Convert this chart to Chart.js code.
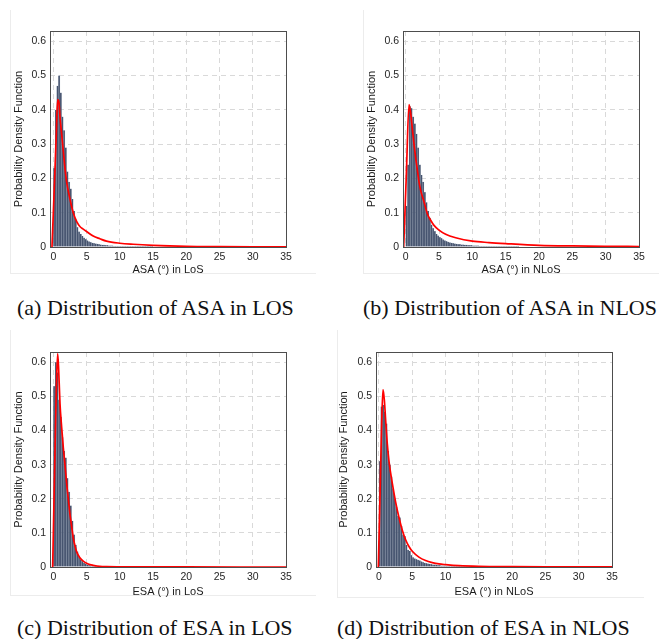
<!DOCTYPE html>
<html>
<head>
<meta charset="utf-8">
<script src="https://cdn.jsdelivr.net/npm/chart.js@4.4.1/dist/chart.umd.min.js"></script>
<style>
  html, body { margin: 0; padding: 0; background: #fff; }
  body { width: 659px; height: 639px; position: relative; overflow: hidden; }
  canvas { position: absolute; }
  .cap { position: absolute; font-family: "Liberation Serif", "Times New Roman", serif; font-size: 22px; line-height: 22px; color: #111; white-space: nowrap; }
  .edge { position: absolute; border-left: 1px solid #ececec; border-bottom: 1px solid #ececec; }
</style>
</head>
<body>
<div class="edge" style="left:10px;top:10px;width:305px;height:263px"></div>
<div class="edge" style="left:363px;top:10px;width:296px;height:263px"></div>
<div class="edge" style="left:10px;top:330px;width:305px;height:265px"></div>
<div class="edge" style="left:337px;top:330px;width:306px;height:267px"></div>

<div class="cap" style="left:17px;top:297px">(a) Distribution of ASA in LOS</div>
<div class="cap" style="left:363px;top:297px">(b) Distribution of ASA in NLOS</div>
<div class="cap" style="left:17px;top:617px">(c) Distribution of ESA in LOS</div>
<div class="cap" style="left:337px;top:617px">(d) Distribution of ESA in NLOS</div>

<script>
// axes
const xTicks = [0, 5, 10, 15, 20, 25, 30, 35];
const yTicks = [0, 0.1, 0.2, 0.3, 0.4, 0.5, 0.6];
const binWidth = 0.25;

// (a) ASA in LoS
const asaLosHist = [0.23, 0.40, 0.47, 0.50, 0.45, 0.38, 0.34, 0.29, 0.22, 0.19, 0.17, 0.14, 0.105, 0.08, 0.058, 0.045,
  0.038, 0.032, 0.027, 0.023, 0.019, 0.016, 0.014, 0.012, 0.011, 0.010, 0.009, 0.008, 0.007, 0.006, 0.006, 0.005,
  0.005, 0.004, 0.004, 0.004, 0.003, 0.003, 0.003, 0.003, 0.002, 0.002, 0.002, 0.002, 0.002, 0.002, 0.002, 0.002,
  0.001, 0.001, 0.001, 0.001, 0.001, 0.001, 0.001, 0.001, 0.001, 0.001, 0.001, 0.001];
const asaLosFitX = [-0.2, 0.2, 0.45, 0.65, 0.85, 1.0, 1.25, 1.5, 1.75, 2.0, 2.5, 3.0, 3.5, 4.0, 4.5, 5.0, 6.0, 7.0, 8.0, 10, 12, 15, 20, 25, 30, 35];
const asaLosFitY = [0, 0.2, 0.33, 0.43, 0.42, 0.38, 0.33, 0.28, 0.23, 0.19, 0.14, 0.10, 0.075, 0.06, 0.052, 0.045, 0.032, 0.024, 0.017, 0.011, 0.008, 0.005, 0.002, 0.001, 0.0005, 0.0003];

// (b) ASA in NLoS
const asaNlosHist = [0.12, 0.24, 0.41, 0.405, 0.38, 0.36, 0.33, 0.29, 0.24, 0.21, 0.19, 0.16, 0.13, 0.105, 0.085, 0.065,
  0.055, 0.046, 0.038, 0.033, 0.029, 0.026, 0.022, 0.019, 0.017, 0.015, 0.013, 0.012, 0.011, 0.010, 0.009, 0.008,
  0.008, 0.007, 0.007, 0.006, 0.006, 0.005, 0.005, 0.005, 0.004, 0.004, 0.004, 0.004, 0.003, 0.003, 0.003, 0.003,
  0.002, 0.002, 0.002, 0.002, 0.002, 0.002, 0.002, 0.002, 0.001, 0.001, 0.001, 0.001, 0.001, 0.001, 0.001, 0.001,
  0.001, 0.001, 0.001, 0.001];
const asaNlosFitX = [-0.3, 0.1, 0.5, 0.75, 1.0, 1.25, 1.5, 1.75, 2.0, 2.25, 2.75, 3.25, 3.75, 4.25, 5.0, 6.0, 7.5, 10, 12.5, 15, 20, 25, 30, 35];
const asaNlosFitY = [0, 0.21, 0.415, 0.39, 0.345, 0.30, 0.26, 0.225, 0.19, 0.165, 0.132, 0.097, 0.078, 0.063, 0.049, 0.037, 0.027, 0.017, 0.013, 0.01, 0.005, 0.003, 0.002, 0.0015];

// (c) ESA in LoS
const esaLosHist = [0.53, 0.60, 0.57, 0.49, 0.44, 0.38, 0.34, 0.32, 0.26, 0.22, 0.18, 0.135, 0.095, 0.065, 0.045, 0.03,
  0.022, 0.017, 0.012, 0.009, 0.007, 0.005, 0.004, 0.003, 0.003, 0.002, 0.002, 0.002, 0.001, 0.001, 0.001, 0.001];
const esaLosFitX = [-0.1, 0.2, 0.45, 0.65, 0.8, 1.0, 1.25, 1.5, 1.75, 2.0, 2.25, 2.5, 2.75, 3.0, 3.25, 3.5, 4.0, 4.5, 5.0, 5.5, 6.0, 7.0, 8.0, 10, 15, 20, 35];
const esaLosFitY = [0, 0.29, 0.52, 0.625, 0.58, 0.48, 0.41, 0.35, 0.30, 0.245, 0.20, 0.155, 0.12, 0.085, 0.063, 0.045, 0.027, 0.017, 0.011, 0.007, 0.005, 0.002, 0.001, 0.0005, 0.0002, 0.0001, 0];

// (d) ESA in NLoS
const esaNlosHist = [0.31, 0.47, 0.475, 0.455, 0.42, 0.34, 0.30, 0.265, 0.23, 0.20, 0.175, 0.15, 0.145, 0.12, 0.095, 0.09,
  0.065, 0.05, 0.047, 0.035, 0.028, 0.025, 0.023, 0.021, 0.019, 0.016, 0.014, 0.012, 0.011, 0.010, 0.009, 0.008,
  0.007, 0.007, 0.006, 0.005, 0.005, 0.004, 0.004, 0.004, 0.003, 0.003, 0.003, 0.002, 0.002, 0.002, 0.002, 0.002,
  0.002, 0.002, 0.002, 0.001, 0.001, 0.001, 0.001, 0.001, 0.001, 0.001, 0.001, 0.001, 0.001, 0.001, 0.001];
const esaNlosFitX = [-0.1, 0.2, 0.4, 0.6, 0.8, 1.0, 1.25, 1.5, 1.75, 2.0, 2.5, 3.0, 3.5, 4.0, 4.5, 5.0, 6.0, 7.0, 8.0, 9.0, 10, 12, 15, 20, 25, 35];
const esaNlosFitY = [0, 0.25, 0.42, 0.52, 0.49, 0.43, 0.36, 0.31, 0.275, 0.245, 0.19, 0.145, 0.108, 0.08, 0.06, 0.046, 0.029, 0.019, 0.013, 0.009, 0.007, 0.004, 0.002, 0.001, 0.0005, 0.0002];

// where each panel sits on the page
const panels = [
  { hist: asaLosHist, fitX: asaLosFitX, fitY: asaLosFitY, xLabel: 'ASA (°) in LoS', xMin: -0.5,
    cx: 0, cy: 0, cw: 330, ch: 290, L: 50, T: 31, R: 286, B: 247, yTitleX: 18.5, xTitleY: 270 },
  { hist: asaNlosHist, fitX: asaNlosFitX, fitY: asaNlosFitY, xLabel: 'ASA (°) in NLoS', xMin: -0.4,
    cx: 330, cy: 0, cw: 329, ch: 290, L: 403, T: 31, R: 639, B: 247, yTitleX: 371.5, xTitleY: 270 },
  { hist: esaLosHist, fitX: esaLosFitX, fitY: esaLosFitY, xLabel: 'ESA (°) in LoS', xMin: -0.5,
    cx: 0, cy: 320, cw: 330, ch: 290, L: 50, T: 352, R: 286, B: 567, yTitleX: 18.5, xTitleY: 591.5 },
  { hist: esaNlosHist, fitX: esaNlosFitX, fitY: esaNlosFitY, xLabel: 'ESA (°) in NLoS', xMin: -0.45,
    cx: 330, cy: 320, cw: 329, ch: 290, L: 376, T: 352, R: 612, B: 567, yTitleX: 344, xTitleY: 591.5 }
];

// box around the plot area
const framePlugin = {
  id: 'frame',
  afterDatasetsDraw(chart) {
    const { ctx, chartArea: a } = chart;
    ctx.save();
    ctx.strokeStyle = '#4d4d4d';
    ctx.lineWidth = 1;
    ctx.strokeRect(Math.round(a.left) + 0.5, Math.round(a.top) + 0.5, Math.round(a.right - a.left), Math.round(a.bottom - a.top));
    ctx.restore();
  }
};

const tickFont = { family: 'Liberation Sans', size: 10.5 };
const titleFont = { family: 'Liberation Sans', size: 11 };
const halfLine = 6.6;

function drawPanel(p) {
  const cv = document.createElement('canvas');
  cv.width = p.cw; cv.height = p.ch;
  cv.style.left = p.cx + 'px'; cv.style.top = p.cy + 'px';
  cv.style.width = p.cw + 'px'; cv.style.height = p.ch + 'px';
  document.body.appendChild(cv);

  const pl = 2, pb = 4;
  const bars = p.hist.map((v, i) => ({ x: (i + 0.5) * binWidth, y: v }));
  const fit = p.fitX.map((x, i) => ({ x: x, y: p.fitY[i] }));

  new Chart(cv.getContext('2d'), {
    type: 'bar',
    data: {
      datasets: [
        { type: 'line', data: fit, borderColor: '#ff0000', borderWidth: 1.7, pointRadius: 0,
          cubicInterpolationMode: 'monotone', order: 0 },
        { type: 'bar', data: bars, backgroundColor: '#46546f', borderColor: 'rgba(120,134,160,0.35)',
          borderWidth: 0.4, barPercentage: 1, categoryPercentage: 1, order: 1 }
      ]
    },
    options: {
      responsive: false, animation: false, devicePixelRatio: 1,
      layout: { padding: { left: pl, top: p.T - p.cy, right: p.cx + p.cw - p.R, bottom: pb } },
      plugins: { legend: { display: false }, tooltip: { enabled: false } },
      scales: {
        x: {
          type: 'linear', min: p.xMin, max: 35, offset: false,
          afterBuildTicks: s => { s.ticks = xTicks.map(v => ({ value: v })); },
          afterFit: s => { s.height = p.cy + p.ch - pb - p.B; },
          ticks: { padding: 4, font: tickFont, color: '#262626', maxRotation: 0, autoSkip: false, callback: v => String(v) },
          grid: { color: '#d9d9d9', drawTicks: false, offset: false },
          border: { display: false, dash: [5, 4] },
          title: { display: true, text: p.xLabel, font: titleFont, color: '#1a1a1a',
                   padding: { top: 0, bottom: p.cy + p.ch - pb - halfLine - p.xTitleY } }
        },
        y: {
          type: 'linear', min: 0, max: 0.63,
          afterBuildTicks: s => { s.ticks = yTicks.map(v => ({ value: v })); },
          afterFit: s => { s.width = p.L - p.cx - pl; },
          ticks: { padding: 4, font: tickFont, color: '#262626', autoSkip: false, callback: v => String(v) },
          grid: { color: '#d9d9d9', drawTicks: false },
          border: { display: false, dash: [5, 4] },
          title: { display: true, text: 'Probability Density Function', font: titleFont, color: '#1a1a1a',
                   padding: { top: p.yTitleX - p.cx - pl - halfLine, bottom: 0 } }
        }
      }
    },
    plugins: [framePlugin]
  });
}

panels.forEach(drawPanel);
</script>
</body>
</html>
